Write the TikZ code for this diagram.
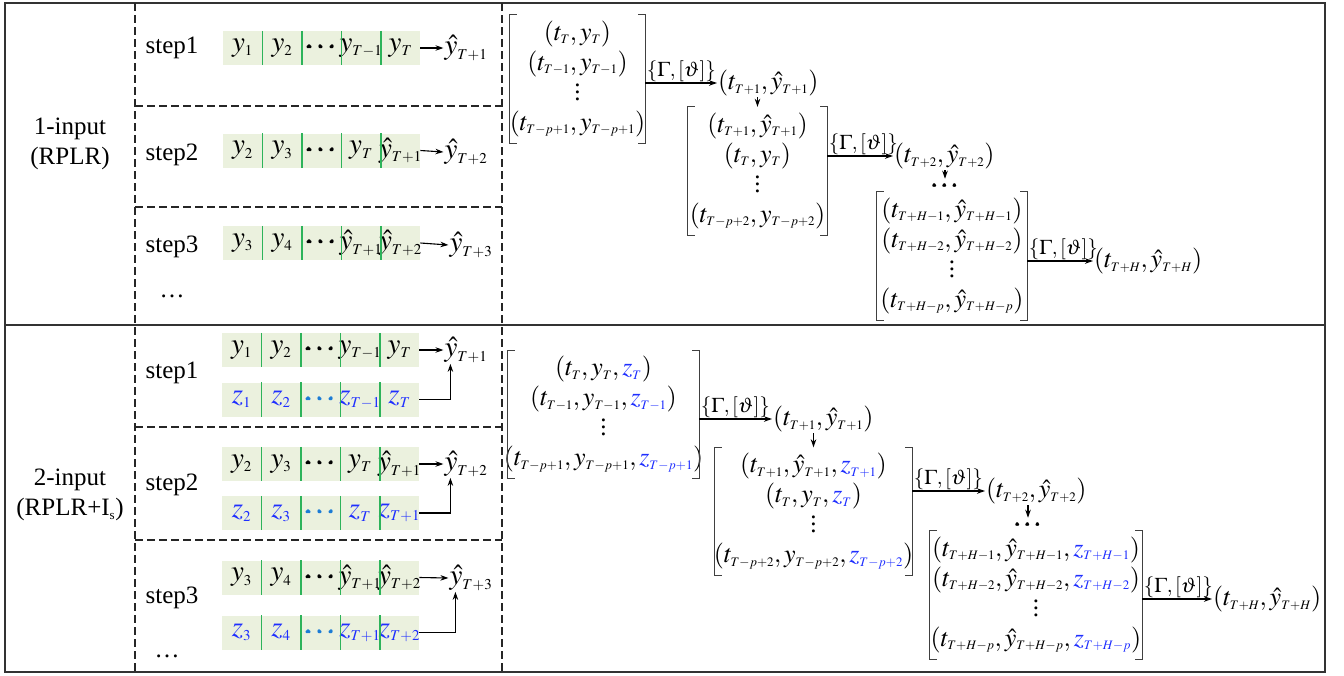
\documentclass[tikz,border=0pt]{standalone}
\usepackage{amsmath}
\usepackage{mathptmx}
\usepackage[no-math]{fontspec}
\setmainfont{Liberation Serif}
\usepackage{xcolor}
\usepackage{tikz}
\usetikzlibrary{arrows.meta, positioning, calc}
\DeclareMathSizes{25}{26}{13}{10}
\DeclareMathSizes{21}{21}{11}{8}
\DeclareMathSizes{28}{29}{15}{11}
\definecolor{cellgreen}{HTML}{EBF1DE}
\definecolor{rulegreen}{HTML}{2DB35A}
\definecolor{zblue}{HTML}{1F2FFF}
\definecolor{dotblue}{HTML}{1C7CD5}
\definecolor{framegrey}{HTML}{333333}
\newcommand{\zb}[1]{{\color{zblue}#1}}
\newcommand{\seqdots}{$\pmb{\cdots}$}
\newcommand{\gtheta}{$\{\Gamma,[\vartheta]\}$}
\newcommand{\tallvdots}{\vbox{\baselineskip=7pt\lineskiplimit=0pt\kern2pt\hbox{.}\hbox{.}\hbox{.}}}
% one row of sequence cells: [style]{name}{x of first cell}{y}{entries}
\newcommand{\seqrow}[5][]{%
  \foreach \entry [count=\i] in {#5}
    \node[cell,#1] (#2\i) at ({#3+39.5*(\i-1)},#4) {\makebox[39.5pt]{\entry}};
  \foreach \i in {1,...,4}
    \draw[divider] (#2\i.north east) -- (#2\i.south east);
}
% square brackets round a matrix node
\newcommand{\brackets}[1]{%
  \draw[brk] ([xshift=7pt]#1.north west) -- (#1.north west) -- (#1.south west) -- ([xshift=7pt]#1.south west);
  \draw[brk] ([xshift=-7pt]#1.north east) -- (#1.north east) -- (#1.south east) -- ([xshift=-7pt]#1.south east);
}

\begin{document}
\begin{tikzpicture}[x=1pt, y=-1pt, font=\fontsize{25}{30}\selectfont,
  cell/.style={fill=cellgreen, minimum width=39.5pt, minimum height=34pt, inner sep=0pt,
    font=\fontsize{28}{32}\selectfont},
  divider/.style={draw=rulegreen, line width=1.2pt},
  sep/.style={draw=black!85, line width=1.1pt, dash pattern=on 8pt off 4pt},
  mat/.style={minimum height=128pt, inner sep=0pt},
  brk/.style={draw=black!75, line width=1.2pt},
  arr/.style={-{Stealth[length=8pt, width=5.5pt]}, line width=1.1pt},
  lab/.style={pos=0, anchor=south west, inner sep=1pt, font=\fontsize{21}{25}\selectfont},
  txt/.style={inner sep=1pt},
  pred/.style={inner sep=1pt, font=\fontsize{28}{32}\selectfont}]

\useasboundingbox (0,0) rectangle (1344,675);

% frame and separators
\draw[line width=2pt, draw=framegrey] (5,3) rectangle (1325,672);
\draw[line width=1.5pt, draw=framegrey] (5,325) -- (1325,325);
\draw[sep] (135,3) -- (135,672);
\draw[sep] (502,3) -- (502,672);
\draw[sep] (135,106) -- (502,106) (135,207) -- (502,207);
\draw[sep] (135,427) -- (502,427) (135,540) -- (502,540);

% input labels
\node[align=center] (in1) at (70,144) {1-input\\(RPLR)};
\node[align=center] (in2) at (70,495) {2-input\\(RPLR+I\textsubscript{s})};

% ---- 1-input steps
\node (sa) at (172,48) {step1};
\node (sb) at (172,155) {step2};
\node (sc) at (172,247) {step3};
\node (sm) at (172,296) {\ldots};

\seqrow{a}{242.5}{48}{$y_1$,$y_2$,\seqdots,$y_{T-1}$,$y_T$}
\seqrow{b}{242.5}{150.5}{$y_2$,$y_3$,\seqdots,$y_T$,$\hat{y}_{T+1}$}
\seqrow{c}{242.5}{243}{$y_3$,$y_4$,\seqdots,$\hat{y}_{T+1}$,$\hat{y}_{T+2}$}

\node[pred] (pa) at (466,48) {$\hat{y}_{T+1}$};
\node[pred] (pb) at (466,152) {$\hat{y}_{T+2}$};
\node[pred] (pc) at (471,245) {$\hat{y}_{T+3}$};
\draw[arr] (a5.east) -- (pa.west);
\draw[arr] (b5.east) -- (pb.west);
\draw[arr] (c5.east) -- (pc.west);

% ---- 1-input recursion
\node[mat, minimum width=135pt] (m1) at (577.5,79)
  {\makebox[0pt]{$\begin{array}{c}(t_T,y_T)\\(t_{T-1},y_{T-1})\\ \tallvdots\\(t_{T-p+1},y_{T-p+1})\end{array}$}};
\brackets{m1}
\node[txt, anchor=west] (r1) at (717,83) {$(t_{T+1},\hat{y}_{T+1})$};
\draw[arr] (m1.east |- r1.west) -- node[lab] {\gtheta} (r1.west);

\node[mat, minimum width=139pt] (m2) at (757.5,171)
  {\makebox[0pt]{$\begin{array}{c}(t_{T+1},\hat{y}_{T+1})\\(t_T,y_T)\\ \tallvdots\\(t_{T-p+2},y_{T-p+2})\end{array}$}};
\brackets{m2}
\draw[arr] (r1.south -| m2.north) -- (m2.north);
\node[txt, anchor=west] (r2) at (893,156) {$(t_{T+2},\hat{y}_{T+2})$};
\draw[arr] (m2.east |- r2.west) -- node[lab] {\gtheta} (r2.west);

\node[txt] (ga) at (945,186) {\seqdots};
\draw[arr] (r2.south -| ga.north) -- (ga.north);
\node[mat, minimum width=150pt] (m3) at (952,256)
  {\makebox[0pt]{$\begin{array}{c}(t_{T+H-1},\hat{y}_{T+H-1})\\(t_{T+H-2},\hat{y}_{T+H-2})\\ \tallvdots\\(t_{T+H-p},\hat{y}_{T+H-p})\end{array}$}};
\brackets{m3}
\node[txt, anchor=west] (r3) at (1093,261) {$(t_{T+H},\hat{y}_{T+H})$};
\draw[arr] (m3.east |- r3.west) -- node[lab] {\gtheta} (r3.west);

% ---- 2-input steps
\node (ta) at (172,373) {step1};
\node (tb) at (172,485) {step2};
\node (tc) at (172,598) {step3};
\node (tm) at (167,656) {\ldots};

\seqrow{d}{241.5}{350}{$y_1$,$y_2$,\seqdots,$y_{T-1}$,$y_T$}
\seqrow[text=zblue]{e}{241.5}{399.5}{$z_1$,$z_2$,{\color{dotblue}\seqdots},$z_{T-1}$,$z_T$}
\seqrow{f}{241.5}{464}{$y_2$,$y_3$,\seqdots,$y_T$,$\hat{y}_{T+1}$}
\seqrow[text=zblue]{g}{241.5}{513}{$z_2$,$z_3$,{\color{dotblue}\seqdots},$z_T$,$z_{T+1}$}
\seqrow{h}{241.5}{577.5}{$y_3$,$y_4$,\seqdots,$\hat{y}_{T+1}$,$\hat{y}_{T+2}$}
\seqrow[text=zblue]{k}{241.5}{632.5}{$z_3$,$z_4$,{\color{dotblue}\seqdots},$z_{T+1}$,$z_{T+2}$}

\node[pred] (qa) at (466,350) {$\hat{y}_{T+1}$};
\node[pred] (qb) at (466,464) {$\hat{y}_{T+2}$};
\node[pred] (qc) at (471,578) {$\hat{y}_{T+3}$};
\draw[arr] (d5.east) -- (qa.west);
\draw[arr] (f5.east) -- (qb.west);
\draw[arr] (h5.east) -- (qc.west);
\draw[arr] (e5.east) -| ([xshift=7pt]qa.south west);
\draw[arr] (g5.east) -| ([xshift=7pt]qb.south west);
\draw[arr] (k5.east) -| ([xshift=7pt]qc.south west);

% ---- 2-input recursion
\node[mat, minimum width=191pt] (n1) at (603.5,414.5)
  {\makebox[0pt]{$\begin{array}{c}(t_T,y_T,\zb{z_T})\\(t_{T-1},y_{T-1},\zb{z_{T-1}})\\ \tallvdots\\(t_{T-p+1},y_{T-p+1},\zb{z_{T-p+1}})\end{array}$}};
\brackets{n1}
\node[txt, anchor=west] (u1) at (772,419) {$(t_{T+1},\hat{y}_{T+1})$};
\draw[arr] (n1.east |- u1.west) -- node[lab] {\gtheta} (u1.west);

\node[mat, minimum width=197pt] (n2) at (813.5,511.5)
  {\makebox[0pt]{$\begin{array}{c}(t_{T+1},\hat{y}_{T+1},\zb{z_{T+1}})\\(t_T,y_T,\zb{z_T})\\ \tallvdots\\(t_{T-p+2},y_{T-p+2},\zb{z_{T-p+2}})\end{array}$}};
\brackets{n2}
\draw[arr] (u1.south -| n2.north) -- (n2.north);
\node[txt, anchor=west] (u2) at (985,491) {$(t_{T+2},\hat{y}_{T+2})$};
\draw[arr] (n2.east |- u2.west) -- node[lab] {\gtheta} (u2.west);

\node[txt] (gb) at (1028,525) {\seqdots};
\draw[arr] (u2.south -| gb.north) -- (gb.north);
\node[mat, minimum width=212pt] (n3) at (1036,595)
  {\makebox[0pt]{$\begin{array}{c}(t_{T+H-1},\hat{y}_{T+H-1},\zb{z_{T+H-1}})\\(t_{T+H-2},\hat{y}_{T+H-2},\zb{z_{T+H-2}})\\ \tallvdots\\(t_{T+H-p},\hat{y}_{T+H-p},\zb{z_{T+H-p}})\end{array}$}};
\brackets{n3}
\node[txt, anchor=west] (u3) at (1212,599) {$(t_{T+H},\hat{y}_{T+H})$};
\draw[arr] (n3.east |- u3.west) -- node[lab] {\gtheta} (u3.west);
\end{tikzpicture}
\end{document}
